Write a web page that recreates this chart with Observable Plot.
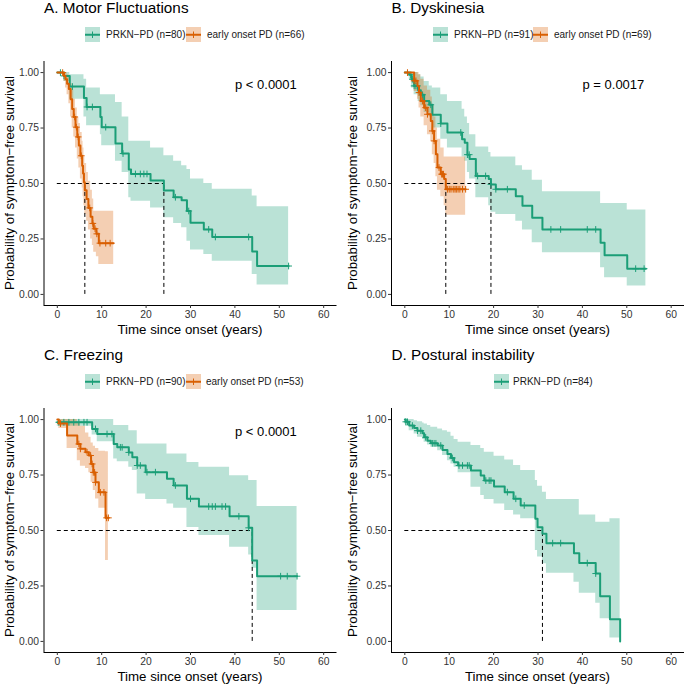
<!DOCTYPE html>
<html><head><meta charset="utf-8">
<script src="https://cdn.jsdelivr.net/npm/d3@7"></script>
<script src="https://cdn.jsdelivr.net/npm/@observablehq/plot@0.6"></script>
<style>
body{margin:0;background:#fff;}
#root{position:relative;width:685px;height:685px;overflow:hidden;font-family:"Liberation Sans",Arial,Helvetica,sans-serif;color:#000;}
.abs{position:absolute;white-space:nowrap;}
.title{font-size:15.3px;line-height:15.3px;}
.legtxt{font-size:10px;line-height:12px;color:#1a1a1a;}
.axtitle{font-size:13.3px;line-height:16px;text-align:center;}
svg.plot{position:absolute;}
</style></head><body><div id="root"></div>
<script>
// ---------- data ----------
const xTicks = [0, 10, 20, 30, 40, 50, 60];
const yTicks = [0, 0.25, 0.5, 0.75, 1];

// A. Motor Fluctuations
const A_prkn_t  = [0, 1.5, 2.8, 6.0, 6.6, 9.7, 10.0, 13.1, 14.6, 16.1, 16.6, 21.0, 24.0, 26.2, 28.0, 29.2, 30.0, 33.0, 34.9, 43.9, 45.0, 52.1];
const A_prkn_s  = [1, .985, .937, .885, .845, .800, .754, .680, .635, .563, .543, .514, .468, .438, .424, .376, .323, .293, .259, .193, .128, .128];
const A_prkn_up = [1, 1, .99, .97, .93, .90, .90, .865, .80, .69, .69, .66, .625, .60, .58, .563, .52, .50, .474, .444, .395, .395];
const A_prkn_lo = [1, .96, .88, .80, .76, .72, .67, .60, .55, .436, .42, .39, .346, .32, .30, .24, .20, .18, .15, .09, .042, .042];
const A_prkn_cens = [0.7, 1.5, 3.4, 6.7, 7.9, 10.9, 14.8, 17.6, 18.7, 19.5, 20.2, 26.6, 29.6, 34.1, 35.6, 43.1, 52.1];
const A_eo_t  = [0, 1.5, 1.85, 2.2, 2.6, 3.0, 3.35, 3.7, 4.1, 4.5, 4.85, 5.2, 5.6, 5.8, 6.0, 6.2, 6.6, 7.0, 7.5, 7.9, 8.2, 8.8, 9.35, 12.7];
const A_eo_s  = [1, .985, .97, .95, .926, .88, .836, .80, .754, .71, .671, .625, .58, .545, .506, .47, .43, .39, .35, .32, .296, .273, .231, .231];
const A_eo_up = [1, 1, 1, .99, .98, .95, .92, .88, .84, .80, .77, .73, .69, .66, .62, .59, .55, .51, .47, .43, .375, .375, .375, .375];
const A_eo_lo = [1, .96, .93, .90, .86, .80, .75, .71, .66, .61, .57, .52, .48, .44, .40, .36, .33, .29, .25, .22, .19, .17, .135, .135];
const A_eo_cens = [1.2, 3.9, 4.3, 4.7, 5.4, 7.3, 8.0, 8.5, 8.9, 9.6, 10.9, 11.9];

// B. Dyskinesia
const B_prkn_t  = [0, 1.0, 1.5, 2.1, 3.0, 3.6, 4.35, 5.5, 6.2, 8.1, 9.6, 12.9, 13.5, 14.1, 14.6, 16.0, 18.9, 19.4, 20.5, 25.0, 26.5, 28.7, 31.0, 44.1, 45.0, 50.1, 54.3];
const B_prkn_s  = [1, .99, .97, .94, .92, .90, .872, .855, .81, .77, .73, .70, .684, .63, .61, .534, .52, .496, .474, .443, .40, .346, .293, .233, .176, .116, .116];
const B_prkn_up = [1, 1, 1, 1, .99, .98, .96, .94, .93, .90, .87, .835, .80, .77, .72, .665, .64, .62, .62, .58, .56, .515, .463, .41, .41, .38, .38];
const B_prkn_lo = [1, .97, .93, .90, .87, .85, .82, .80, .75, .70, .66, .62, .60, .55, .52, .436, .40, .37, .36, .33, .29, .233, .188, .12, .075, .038, .038];
const B_prkn_cens = [1.35, 1.7, 2.1, 2.5, 2.85, 4.0, 5.85, 8.1, 12.6, 14.1, 14.5, 16.4, 18.2, 19.4, 20.5, 23.1, 32.9, 35.1, 41.1, 43.0, 52.0, 53.9];
const B_eo_t  = [0, 2.1, 2.85, 3.2, 3.6, 4.35, 5.1, 5.85, 6.2, 6.6, 7.0, 7.35, 8.1, 8.86, 9.23, 13.7];
const B_eo_s  = [1, .963, .94, .91, .872, .842, .812, .782, .737, .692, .632, .572, .542, .52, .474, .474];
const B_eo_up = [1, 1, 1, .99, .97, .94, .92, .89, .85, .80, .75, .70, .66, .62, .62, .62];
const B_eo_lo = [1, .915, .88, .84, .80, .76, .72, .69, .63, .59, .53, .47, .44, .40, .357, .357];
const B_eo_cens = [0.6, 2.1, 2.5, 3.2, 4.0, 4.7, 5.1, 6.2, 6.6, 7.7, 8.3, 8.5, 8.7, 9.6, 10.0, 10.4, 10.9, 11.3, 11.6, 12.0, 12.4, 13.0, 13.7];

// C. Freezing
const C_prkn_t  = [0, 7.85, 9.0, 12.7, 13.5, 16.1, 16.9, 18.0, 19.9, 24.7, 26.2, 29.2, 31.9, 38.8, 43.1, 43.9, 45.0, 54.0];
const C_prkn_s  = [.988, .958, .935, .89, .875, .852, .83, .793, .763, .733, .703, .643, .608, .564, .512, .365, .294, .294];
const C_prkn_up = [1, 1, 1, .973, .973, .95, .95, .89, .89, .845, .845, .807, .785, .747, .725, .725, .608, .608];
const C_prkn_lo = [.97, .93, .90, .822, .81, .785, .77, .665, .64, .62, .60, .514, .477, .424, .39, .33, .139, .139];
const C_prkn_cens = [0.34, 1.47, 2.6, 3.7, 4.85, 6.0, 6.7, 8.6, 11.2, 12.3, 14.2, 14.6, 16.1, 18.0, 18.7, 20.2, 22.1, 26.6, 30.0, 34.1, 34.9, 35.6, 37.1, 37.9, 40.9, 43.1, 50.3, 51.8, 54.0];
const C_eo_t  = [0, 0.34, 2.2, 4.5, 5.2, 6.35, 7.1, 7.6, 8.1, 8.6, 9.35, 10.86, 11.5];
const C_eo_s  = [1, .982, .928, .890, .868, .853, .838, .80, .762, .717, .672, .557, .557];
const C_eo_up = [1, 1, 1, .982, .97, .94, .92, .895, .88, .87, .857, .855, .855];
const C_eo_lo = [1, .96, .87, .815, .79, .78, .76, .717, .68, .642, .60, .365, .365];
const C_eo_cens = [0.72, 4.85, 5.2, 6.7, 7.5, 7.85, 8.1, 8.4, 8.6, 9.7, 10.5, 11.1, 11.5];

// D. Postural instability
const D_prkn_t  = [0, 0.2, 0.98, 2.1, 2.85, 4.0, 4.35, 5.1, 5.85, 7.4, 8.5, 9.6, 10.4, 11.1, 12.0, 14.9, 17.1, 17.9, 20.1, 22.5, 24.5, 26.1, 29.4, 29.9, 31.0, 31.9, 38.1, 39.3, 43.0, 44.0, 46.2, 48.5];
const D_prkn_s  = [1, .99, .973, .962, .95, .938, .92, .905, .893, .883, .863, .845, .827, .808, .793, .770, .748, .725, .698, .673, .643, .613, .553, .515, .485, .443, .398, .353, .306, .204, .10, 0];
const D_prkn_up = [1, 1, 1, .995, .99, .985, .98, .973, .965, .958, .95, .943, .925, .91, .898, .883, .87, .853, .835, .818, .793, .77, .725, .70, .673, .64, .64, .57, .537, .537, .553, .553];
const D_prkn_lo = [.98, .97, .95, .935, .92, .91, .898, .885, .875, .86, .838, .815, .80, .785, .76, .695, .658, .64, .62, .59, .57, .553, .41, .38, .35, .307, .267, .217, .172, .102, .015, .015];
const D_prkn_cens = [0.23, 0.6, 1.7, 2.85, 3.6, 4.7, 6.2, 6.6, 7.0, 8.1, 10.7, 12.2, 13.0, 14.1, 14.5, 18.25, 19.0, 19.4, 23.1, 25.0, 26.9, 33.3, 35.1, 41.1, 43.0];

const pValues = {A: "p < 0.0001", B: "p = 0.0017", C: "p < 0.0001"};
const nLabels = {A: [80, 66], B: [91, 69], C: [90, 53], D: [84]};
const groupNames = ["PRKN\u2212PD", "early onset PD"];
const panelTitles = {A: "A. Motor Fluctuations", B: "B. Dyskinesia", C: "C. Freezing", D: "D. Postural instability"};
const MEDIAN_LEVEL = 0.5;

// ---------- styling / layout ----------
const X_DOMAIN = [-3, 63];
const Y_DOMAIN = [-0.05, 1.05];
const COLORS = ["#1B9E77", "#D95F02"];
const FONT = '"Liberation Sans", Arial, Helvetica, sans-serif';
const root = document.getElementById("root");

function group(t, s, up, lo, cens, ci) {
  return {t, s, up, lo, cens, color: COLORS[ci]};
}
const panels = [
  {id: "A", left: 0, top: 55, ml: 43.5, w: 343, cy: 34.5, keys: [85, 186], texts: [106, 207],
   groups: [group(A_prkn_t, A_prkn_s, A_prkn_up, A_prkn_lo, A_prkn_cens, 0), group(A_eo_t, A_eo_s, A_eo_up, A_eo_lo, A_eo_cens, 1)]},
  {id: "B", left: 343, top: 55, ml: 48, w: 342, cy: 34.5, keys: [433, 533], texts: [454, 554],
   groups: [group(B_prkn_t, B_prkn_s, B_prkn_up, B_prkn_lo, B_prkn_cens, 0), group(B_eo_t, B_eo_s, B_eo_up, B_eo_lo, B_eo_cens, 1)]},
  {id: "C", left: 0, top: 402, ml: 43.5, w: 343, cy: 381.5, keys: [85, 186], texts: [106, 206],
   groups: [group(C_prkn_t, C_prkn_s, C_prkn_up, C_prkn_lo, C_prkn_cens, 0), group(C_eo_t, C_eo_s, C_eo_up, C_eo_lo, C_eo_cens, 1)]},
  {id: "D", left: 343, top: 402, ml: 48, w: 342, cy: 381.5, keys: [494], texts: [513],
   groups: [group(D_prkn_t, D_prkn_s, D_prkn_up, D_prkn_lo, D_prkn_cens, 0)]}
];

const PLOT_H = 244, MT = 6, MB = 22, PLOT_W = 293;

function stepAt(g, c) {
  let v = g.s[0];
  for (let i = 0; i < g.t.length; i++) if (g.t[i] <= c) v = g.s[i];
  return v;
}
function medianOf(g) {
  for (let i = 0; i < g.t.length; i++) if (g.s[i] <= MEDIAN_LEVEL) return g.t[i];
  return null;
}

function addDiv(cls, text, style) {
  const d = document.createElement("div");
  d.className = "abs " + cls;
  d.textContent = text;
  Object.assign(d.style, style);
  root.appendChild(d);
  return d;
}
function keySvg(color) {
  const ns = "http://www.w3.org/2000/svg";
  const s = document.createElementNS(ns, "svg");
  s.setAttribute("width", 15); s.setAttribute("height", 15.5);
  s.innerHTML = `<rect width="15" height="15.5" fill="${color}" fill-opacity="0.3"/>` +
    `<line x1="0" x2="15" y1="7.75" y2="7.75" stroke="${color}" stroke-width="2"/>` +
    `<line x1="7.5" x2="7.5" y1="4.5" y2="11" stroke="${color}" stroke-width="1"/>`;
  return s;
}

for (const p of panels) {
  const marks = [
    Plot.ruleX([X_DOMAIN[0]], {stroke: "#000", strokeWidth: 1}),
    Plot.ruleY([Y_DOMAIN[0]], {stroke: "#000", strokeWidth: 1}),
    Plot.axisX({ticks: xTicks, tickSize: 3, tickPadding: 2, label: null, color: "#333", fontSize: 10.3}),
    Plot.axisY({ticks: yTicks, tickFormat: d3.format(".2f"), tickSize: 3, tickPadding: 2, label: null, color: "#333", fontSize: 10.3})
  ];
  const rowsets = p.groups.map(g => g.t.map((t, i) => ({t, s: g.s[i], up: g.up[i], lo: g.lo[i]})));
  p.groups.forEach((g, k) => {
    marks.push(Plot.areaY(rowsets[k], {x: "t", y1: "lo", y2: "up", curve: "step-after", fill: g.color, fillOpacity: 0.3}));
  });
  const meds = p.groups.map(medianOf).filter(m => m != null);
  if (meds.length) {
    const medRows = meds.map(m => ({m, lvl: MEDIAN_LEVEL, base: 0}));
    marks.push(Plot.ruleY([{lvl: MEDIAN_LEVEL, from: 0, to: d3.max(meds)}], {y: "lvl", x1: "from", x2: "to", stroke: "#000", strokeWidth: 1, strokeDasharray: "4,3"}));
    marks.push(Plot.ruleX(medRows, {x: "m", y1: "base", y2: "lvl", stroke: "#000", strokeWidth: 1, strokeDasharray: "4,3"}));
  }
  p.groups.forEach((g, k) => {
    marks.push(Plot.line(rowsets[k], {x: "t", y: "s", curve: "step-after", stroke: g.color, strokeWidth: 2}));
    const cr = g.cens.map(c => ({t: c, s: stepAt(g, c)}));
    marks.push(Plot.dot(cr, {x: "t", y: "s", symbol: "plus", r: 2.3, stroke: g.color, strokeWidth: 1, fill: "none"}));
  });
  if (pValues[p.id]) {
    marks.push(Plot.text([pValues[p.id]], {text: d => d, frameAnchor: "top-left", textAnchor: "start", lineAnchor: "middle", dx: 191, dy: 23, fontSize: 13, fill: "#000"}));
  }
  const chart = Plot.plot({
    width: p.w, height: MT + PLOT_H + MB,
    marginLeft: p.ml, marginRight: p.w - p.ml - PLOT_W, marginTop: MT, marginBottom: MB,
    x: {domain: X_DOMAIN},
    y: {domain: Y_DOMAIN},
    style: {fontFamily: FONT, background: "transparent", overflow: "visible"},
    marks
  });
  chart.classList.add("plot");
  chart.style.left = p.left + "px";
  chart.style.top = p.top + "px";
  root.appendChild(chart);

  const plotTop = p.top + MT;
  const plotLeft = p.left + p.ml;
  addDiv("title", panelTitles[p.id], {left: (plotLeft + 0.5) + "px", top: (plotTop - 61) + "px"});
  p.groups.forEach((g, k) => {
    const key = keySvg(g.color);
    key.style.position = "absolute";
    key.style.left = p.keys[k] + "px";
    key.style.top = (p.cy - 7.75) + "px";
    root.appendChild(key);
    addDiv("legtxt", `${groupNames[k]} (n=${nLabels[p.id][k]})`, {left: p.texts[k] + "px", top: (p.cy - 6) + "px"});
  });
  const cy = plotTop + PLOT_H / 2;
  addDiv("axtitle", "Probability of symptom\u2212free survival", {left: (p.left + 10 - 150) + "px", top: (cy - 8) + "px", width: "300px", transform: "rotate(-90deg)"});
  addDiv("axtitle", "Time since onset (years)", {left: (plotLeft + PLOT_W / 2 - 150) + "px", top: (plotTop + PLOT_H + 17) + "px", width: "300px"});
}
</script></body></html>
